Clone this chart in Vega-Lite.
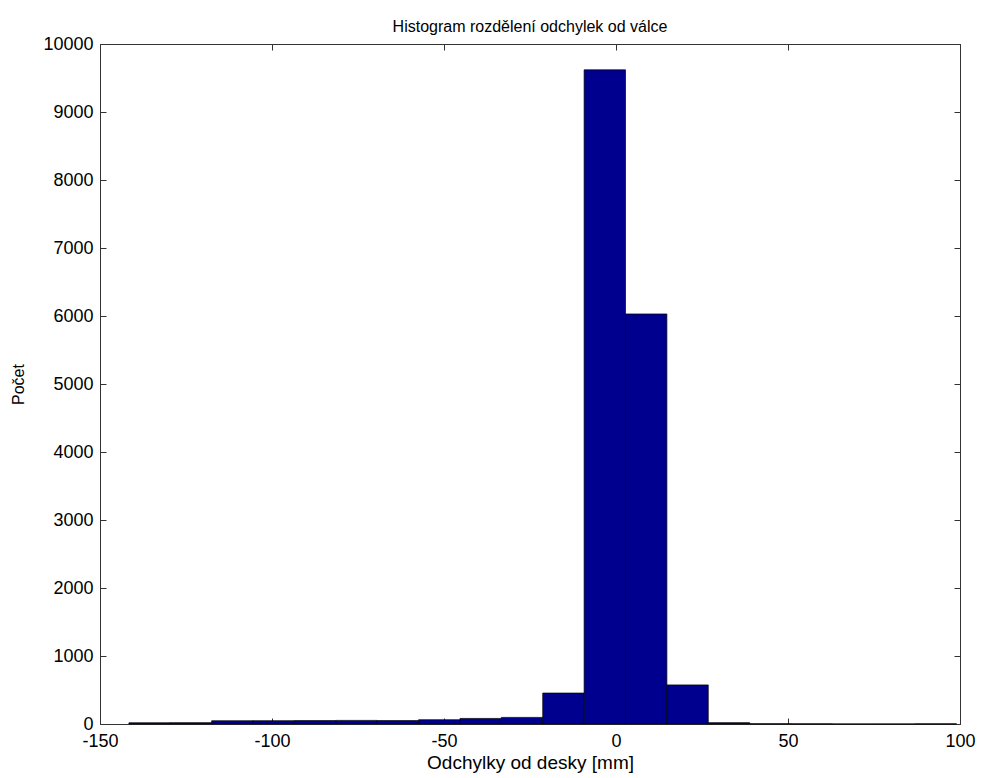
{
  "$schema": "https://vega.github.io/schema/vega-lite/v6.json",
  "autosize": "none",
  "width": 860,
  "height": 680,
  "padding": {"left": 100, "top": 44, "right": 21, "bottom": 54},
  "background": "white",
  "config": {
    "font": "Liberation Sans",
    "view": {"stroke": null},
    "axis": {"grid": false, "domainColor": "#333", "tickColor": "#333", "labelColor": "#000", "titleColor": "#000", "labelFont": "Liberation Sans", "titleFont": "Liberation Sans", "labelFontSize": 18, "titleFontSize": 19, "titleFontWeight": "normal", "tickSize": -6, "labelPadding": 10, "labelFlush": false, "labelOverlap": false, "labelExpr": "'' + datum.value"}
  },
  "title": {"text": "Histogram rozdělení odchylek od válce", "fontSize": 16, "fontWeight": "normal", "font": "Liberation Sans", "color": "#000", "baseline": "alphabetic", "offset": -13},
  "data": {"values": [
    {"bin_start": -141.6, "bin_end": -129.57, "count": 18},
    {"bin_start": -129.57, "bin_end": -117.54, "count": 20},
    {"bin_start": -117.54, "bin_end": -105.51, "count": 48},
    {"bin_start": -105.51, "bin_end": -93.48, "count": 49},
    {"bin_start": -93.48, "bin_end": -81.45, "count": 50},
    {"bin_start": -81.45, "bin_end": -69.42, "count": 53},
    {"bin_start": -69.42, "bin_end": -57.39, "count": 50},
    {"bin_start": -57.39, "bin_end": -45.36, "count": 63},
    {"bin_start": -45.36, "bin_end": -33.33, "count": 82},
    {"bin_start": -33.33, "bin_end": -21.3, "count": 97},
    {"bin_start": -21.3, "bin_end": -9.27, "count": 455},
    {"bin_start": -9.27, "bin_end": 2.76, "count": 9620},
    {"bin_start": 2.76, "bin_end": 14.79, "count": 6030},
    {"bin_start": 14.79, "bin_end": 26.82, "count": 575},
    {"bin_start": 26.82, "bin_end": 38.85, "count": 20},
    {"bin_start": 38.85, "bin_end": 50.88, "count": 4},
    {"bin_start": 50.88, "bin_end": 62.91, "count": 2},
    {"bin_start": 62.91, "bin_end": 74.94, "count": 1},
    {"bin_start": 74.94, "bin_end": 86.97, "count": 1},
    {"bin_start": 86.97, "bin_end": 99.0, "count": 2}
  ]},
  "layer": [
    {
      "mark": {"type": "rect", "fill": "#00008F", "stroke": "#000", "strokeWidth": 0.7},
      "encoding": {
        "x": {"field": "bin_start", "type": "quantitative", "scale": {"domain": [-150, 100], "nice": false, "zero": false},
              "axis": {"orient": "bottom", "values": [-150, -100, -50, 0, 50, 100], "labelPadding": 14, "title": "Odchylky od desky [mm]", "titleX": 430, "titleY": 38, "titleBaseline": "middle", "titleAlign": "center"}},
        "x2": {"field": "bin_end"},
        "y": {"field": "count", "type": "quantitative", "scale": {"domain": [0, 10000], "nice": false},
              "axis": {"orient": "left", "values": [0, 1000, 2000, 3000, 4000, 5000, 6000, 7000, 8000, 9000, 10000], "labelPadding": 13, "title": "Počet", "titleFontSize": 16, "titleX": -82, "titleY": 340, "titleAngle": -90, "titleBaseline": "middle", "titleAlign": "center"}},
        "y2": {"datum": 0}
      }
    },
    {
      "mark": {"type": "rect", "opacity": 0},
      "encoding": {
        "x": {"field": "bin_start", "type": "quantitative", "scale": {"domain": [-150, 100], "nice": false, "zero": false},
              "axis": {"orient": "top", "values": [-150, -100, -50, 0, 50, 100], "labels": false, "title": null}},
        "x2": {"field": "bin_end"},
        "y": {"field": "count", "type": "quantitative", "scale": {"domain": [0, 10000], "nice": false},
              "axis": {"orient": "right", "values": [0, 1000, 2000, 3000, 4000, 5000, 6000, 7000, 8000, 9000, 10000], "labels": false, "title": null}},
        "y2": {"datum": 0}
      }
    }
  ],
  "resolve": {"axis": {"x": "independent", "y": "independent"}}
}
